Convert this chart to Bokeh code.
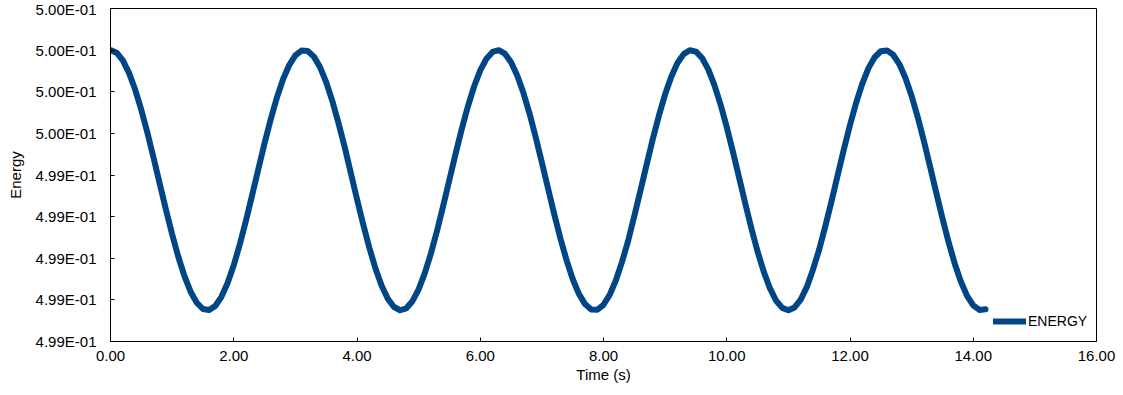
from bokeh.plotting import figure
from bokeh.models import FixedTicker, NumeralTickFormatter, Range1d
from bokeh.embed import file_html
from bokeh.resources import INLINE

energy = [
    0.4998000, 0.4997938, 0.4997753, 0.4997454, 0.4997052, 0.4996563, 0.4996007, 0.4995406, 0.4994784, 0.4994165,
    0.4993575, 0.4993036, 0.4992571, 0.4992197, 0.4991931, 0.4991781, 0.4991755, 0.4991854, 0.4992073, 0.4992403,
    0.4992832, 0.4993343, 0.4993915, 0.4994524, 0.4995148, 0.4995762, 0.4996339, 0.4996858, 0.4997299, 0.4997642,
    0.4997876, 0.4997989, 0.4997979, 0.4997844, 0.4997592, 0.4997231, 0.4996776, 0.4996246, 0.4995674, 0.4995044,
    0.4994420, 0.4993815, 0.4993252, 0.4992754, 0.4992338, 0.4992027, 0.4991829, 0.4991751, 0.4991798, 0.4991968,
    0.4992253, 0.4992643, 0.4993117, 0.4993668, 0.4994268, 0.4994889, 0.4995510, 0.4996105, 0.4996651, 0.4997126,
    0.4997512, 0.4997793, 0.4997957, 0.4997998, 0.4997915, 0.4997711, 0.4997393, 0.4996975, 0.4996476, 0.4995909,
    0.4995302, 0.4994679, 0.4994063, 0.4993480, 0.4992956, 0.4992501, 0.4992146, 0.4991898, 0.4991767, 0.4991763,
    0.4991882, 0.4992121, 0.4992465, 0.4992913, 0.4993417, 0.4994015, 0.4994628, 0.4995253, 0.4995865, 0.4996431,
    0.4996938, 0.4997363, 0.4997689, 0.4997903, 0.4997996, 0.4997965, 0.4997810, 0.4997539, 0.4997161, 0.4996692,
    0.4996150, 0.4995559, 0.4994939, 0.4994317, 0.4993717, 0.4993163, 0.4992678, 0.4992281, 0.4991984, 0.4991807,
    0.4991750, 0.4991818, 0.4992006, 0.4992312, 0.4992730, 0.4993210, 0.4993772, 0.4994371, 0.4994993, 0.4995612,
    0.4996201, 0.4996736, 0.4997198, 0.4997567, 0.4997829, 0.4997973, 0.4997993, 0.4997889, 0.4997665, 0.4997330,
    0.4996897, 0.4996386, 0.4995808, 0.4995198, 0.4994574, 0.4993962, 0.4993386, 0.4992870, 0.4992434, 0.4992095,
    0.4991867, 0.4991759, 0.4991776,
]
time_s = [round(i * 0.1, 1) for i in range(len(energy))]

x_ticks = [0, 2, 4, 6, 8, 10, 12, 14, 16]
y_ticks = [0.4991, 0.4992, 0.4993, 0.4994, 0.4995, 0.4996, 0.4997, 0.4998, 0.4999]
y_tick_labels = ["4.99E-01", "4.99E-01", "4.99E-01", "4.99E-01", "4.99E-01",
                 "5.00E-01", "5.00E-01", "5.00E-01", "5.00E-01"]

FONT = "Liberation Sans"
COLOR = "#004586"

p = figure(width=1123, height=395, output_backend="svg", toolbar_location=None,
           x_range=Range1d(0, 16), y_range=Range1d(0.4991, 0.4999))
p.min_border_left = 110
p.min_border_right = 27
p.min_border_top = 8
p.min_border_bottom = 54
p.background_fill_color = "white"
p.border_fill_color = "white"
p.outline_line_color = "black"
p.outline_line_width = 1
p.grid.visible = False

p.line(time_s, energy, line_color=COLOR, line_width=6, line_cap="round",
       line_join="round", legend_label="ENERGY")

xa = p.xaxis[0]
xa.ticker = FixedTicker(ticks=x_ticks)
xa.formatter = NumeralTickFormatter(format="0.00")
xa.axis_label = "Time (s)"

ya = p.yaxis[0]
ya.ticker = FixedTicker(ticks=y_ticks)
ya.major_label_overrides = {t: l for t, l in zip(y_ticks, y_tick_labels)}
ya.axis_label = "Energy"

for ax in (xa, ya):
    ax.major_tick_in = 4
    ax.major_tick_out = 0
    ax.minor_tick_line_color = None
    ax.axis_line_color = "black"
    ax.major_tick_line_color = "black"
    ax.major_label_text_font = FONT
    ax.major_label_text_font_size = "15px"
    ax.major_label_text_color = "black"
    ax.axis_label_text_font = FONT
    ax.axis_label_text_font_size = "15px"
    ax.axis_label_text_font_style = "normal"
    ax.axis_label_text_color = "black"

xa.major_label_standoff = 9
xa.axis_label_standoff = 2
ya.major_label_standoff = 14
ya.axis_label_standoff = 9

lg = p.legend[0]
lg.location = (883, 10)
lg.glyph_width = 33
lg.glyph_height = 20
lg.label_standoff = 2
lg.padding = 0
lg.margin = 0
lg.spacing = 0
lg.border_line_color = None
lg.background_fill_alpha = 0
lg.label_text_font = FONT
lg.label_text_font_size = "14px"
lg.label_text_color = "black"
lg.label_height = 20

open("out.html", "w").write(file_html(p, INLINE))
